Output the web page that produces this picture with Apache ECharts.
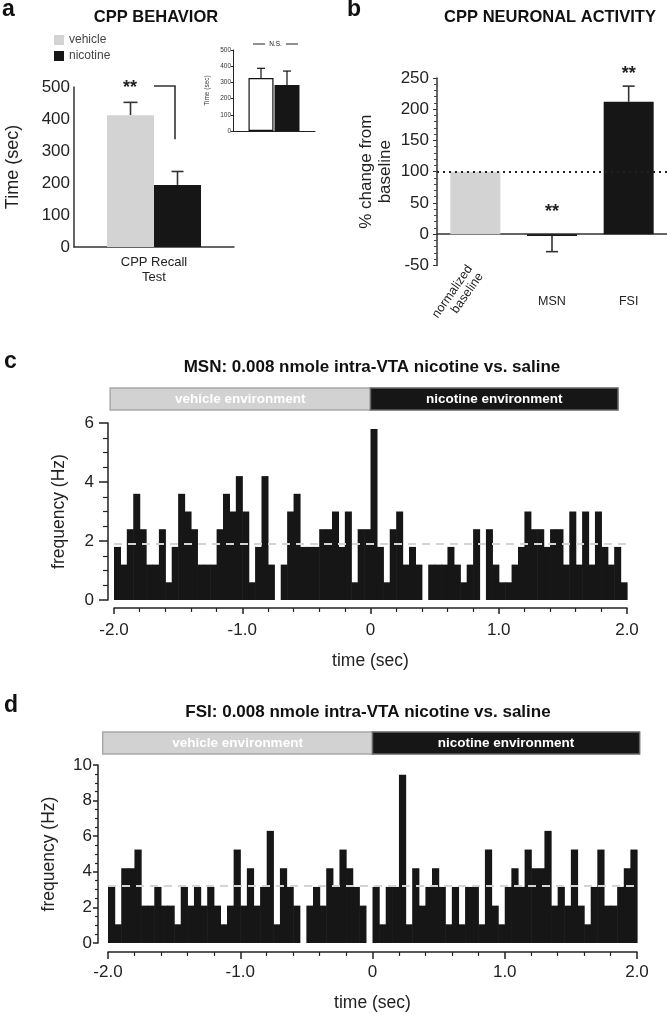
<!DOCTYPE html>
<html><head><meta charset="utf-8">
<script src="https://cdn.jsdelivr.net/npm/echarts@6/dist/echarts.min.js"></script>
<style>html,body{margin:0;padding:0;background:#fff}#c{width:667px;height:1015px}</style>
</head><body><div id="c"></div>
<script>
// ---------- data ----------
const behaviorCategories = ['CPP Recall\nTest'];
const behaviorVehicle = [412];
const behaviorVehicleErr = [40];
const behaviorNicotine = [194];
const behaviorNicotineErr = [42];
const behaviorBracket = [503, 337];   // bracket top / bottom (sec)
const behaviorStarsY = 507;

const insetVehicle = [327];
const insetVehicleErr = [60];
const insetNicotine = [284];
const insetNicotineErr = [86];
const insetNSY = 537;

const neuronCategories = ['normalized\nbaseline', 'MSN', 'FSI'];
const neuronValues = [100, -3, 212];
const neuronErr = [0, -25, 25];
const neuronStarsY = [null, 41, 261];
const neuronBaseline = 100;

const binWidth = 0.05;
const msnFreq = [1.8,1.2,2.4,3.6,2.4,1.2,1.2,2.4,0.6,1.8,
                 3.6,3.0,2.4,1.2,1.2,1.2,2.4,3.6,3.0,4.2,
                 3.0,0.6,1.8,4.2,1.2,0,1.2,3.0,3.6,1.8,
                 1.8,1.8,2.4,2.4,3.0,1.8,3.0,0.6,2.4,2.4,
                 5.8,1.8,0.6,2.4,3.0,1.2,1.8,1.2,0,1.2,
                 1.2,1.2,1.8,1.2,0.6,1.2,2.4,0,2.4,1.2,
                 0.6,0.6,1.2,1.8,3.0,2.4,2.4,1.8,2.4,2.4,
                 1.2,3.0,1.2,3.0,1.2,3.0,1.8,1.2,1.8,0.6];
const fsiFreq = [3.15,1.05,4.2,4.2,5.25,2.1,2.1,3.15,2.1,2.1,
                 1.05,3.15,2.1,3.15,2.1,3.15,2.1,1.05,2.1,5.25,
                 2.1,4.2,2.1,3.15,6.3,1.05,4.2,3.15,2.1,0,
                 2.1,3.15,2.1,4.2,3.15,5.25,4.2,3.15,2.1,0,
                 3.15,1.05,3.15,3.15,9.45,1.05,4.2,2.1,3.15,4.2,
                 3.15,1.05,3.15,1.05,3.15,3.15,1.05,5.25,2.1,1.05,
                 3.15,4.2,3.15,5.25,4.2,4.2,6.3,2.1,3.15,2.1,
                 5.25,2.1,1.05,3.15,5.25,2.1,2.1,3.15,4.2,5.25];
const msnBaseline = 1.9;
const fsiBaseline = 3.2;
const msnEnv = [[-2.03, 0], [0, 1.93]];
const fsiEnv = [[-2.04, 0], [0, 2.02]];
const envLabels = ['vehicle environment', 'nicotine environment'];
const histRange = [-2, 2];

// ---------- helpers ----------
const FF = '"Liberation Sans", Arial, sans-serif';
const INK = '#222';
const BLACK = '#161616';
const GRAY = '#d3d3d3';

function errRenderer(offset, cap, color, lw) {
  return function (params, api) {
    const c = api.value(0), v = api.value(1), e = api.value(2);
    if (!e) return;
    const p0 = api.coord([c, v]), p1 = api.coord([c, v + e]);
    const x = p0[0] + offset;
    return { type: 'group', children: [
      { type: 'line', shape: { x1: x, y1: p0[1], x2: x, y2: p1[1] }, style: { stroke: color, lineWidth: lw } },
      { type: 'line', shape: { x1: x - cap, y1: p1[1], x2: x + cap, y2: p1[1] }, style: { stroke: color, lineWidth: lw } }
    ]};
  };
}
function histRenderer(params, api) {
  const x0 = api.value(0), v = api.value(1);
  if (!v) return;
  const p0 = api.coord([x0, 0]), p1 = api.coord([x0 + binWidth, v]);
  return { type: 'rect', shape: { x: p0[0], y: p1[1], width: p1[0] - p0[0] + 0.6, height: p0[1] - p1[1] },
           style: { fill: BLACK } };
}
function envRenderer(params, api) {
  const s = api.value(0), e = api.value(1);
  const p0 = api.coord([s, 1]), p1 = api.coord([e, 0]);
  const dark = params.dataIndex === 1;
  return { type: 'group', children: [
    { type: 'rect', shape: { x: p0[0], y: p0[1], width: p1[0] - p0[0], height: p1[1] - p0[1] },
      style: { fill: dark ? BLACK : '#d2d2d2', stroke: dark ? '#666' : '#a8a8a8', lineWidth: 1.5 } },
    { type: 'text', style: { x: (p0[0] + p1[0]) / 2, y: (p0[1] + p1[1]) / 2, text: envLabels[params.dataIndex],
      fill: '#fff', font: 'bold 13.5px ' + FF, textAlign: 'center', textVerticalAlign: 'middle', align: 'center', verticalAlign: 'middle' } }
  ]};
}
function histX(gridIdx, labelMargin, majorLen) {
  return { gridIndex: gridIdx, type: 'value', position: 'bottom', min: histRange[0], max: histRange[1], interval: 1,
    offset: gridIdx === 4 ? 8 : 9,
    axisLine: { show: true, onZero: false, lineStyle: { color: INK, width: 1.5 } },
    axisTick: { show: true, length: majorLen, lineStyle: { color: INK, width: 1.5 } },
    minorTick: { show: true, splitNumber: 5, length: 4, lineStyle: { color: INK, width: 1.2 } },
    splitLine: { show: false }, minorSplitLine: { show: false },
    axisLabel: { color: INK, fontSize: 17, fontFamily: FF, margin: labelMargin,
      formatter: v => v === 0 ? '0' : v.toFixed(1) },
    name: 'time (sec)', nameLocation: 'middle', nameGap: gridIdx === 4 ? 44 : 42,
    nameTextStyle: { color: INK, fontSize: 17.5, fontFamily: FF } };
}
function histY(gridIdx, max, tickLen, margin, nameGap, offset) {
  return { gridIndex: gridIdx, type: 'value', position: 'left', min: 0, max: max, interval: 2, offset: offset,
    axisLine: { show: true, onZero: false, lineStyle: { color: INK, width: 1.5 } },
    axisTick: { show: true, length: tickLen, lineStyle: { color: INK, width: 1.5 } },
    minorTick: { show: true, splitNumber: 4, length: Math.round(tickLen / 2), lineStyle: { color: INK, width: 1.2 } },
    splitLine: { show: false }, minorSplitLine: { show: false },
    axisLabel: { color: INK, fontSize: 17, fontFamily: FF, margin: margin },
    name: 'frequency (Hz)', nameLocation: 'middle', nameGap: nameGap,
    nameTextStyle: { color: INK, fontSize: 17.5, fontFamily: FF } };
}
function title(x, y, text, size, align) {
  return { type: 'text', x: x, y: y, silent: true,
    style: { text: text, font: 'bold ' + size + 'px ' + FF, fill: '#111',
      textAlign: align || 'center', textVerticalAlign: 'middle', align: align || 'center', verticalAlign: 'middle' } };
}

const chart = echarts.init(document.getElementById('c'), null, { renderer: 'canvas' });
const option = {
  animation: false,
  backgroundColor: '#fff',
  textStyle: { fontFamily: FF },
  legend: { data: ['vehicle', 'nicotine'], orient: 'vertical', left: 49, top: 29, itemWidth: 10, itemHeight: 10,
    itemGap: 4, icon: 'rect', selectedMode: false,
    textStyle: { fontSize: 12, color: '#444', fontFamily: FF } },
  grid: [
    { left: 74, top: 87, width: 160, height: 160 },
    { left: 233, top: 50, width: 82, height: 81 },
    { left: 437, top: 78, width: 230, height: 187.4 },
    { left: 114, top: 388, width: 513, height: 22 },
    { left: 114, top: 423, width: 513, height: 177 },
    { left: 108, top: 732, width: 529, height: 22 },
    { left: 108, top: 765, width: 529, height: 178 }
  ],
  xAxis: [
    { gridIndex: 0, type: 'category', position: 'bottom', data: behaviorCategories,
      axisLine: { lineStyle: { color: '#333', width: 1.5 } }, axisTick: { show: false },
      axisLabel: { color: INK, fontSize: 13, lineHeight: 15, margin: 8, fontFamily: FF } },
    { gridIndex: 1, type: 'category', position: 'bottom', data: [''],
      axisLine: { lineStyle: { color: '#222', width: 1 } }, axisTick: { show: false }, axisLabel: { show: false } },
    { gridIndex: 2, type: 'category', position: 'bottom', data: neuronCategories,
      axisLine: { onZero: true, lineStyle: { color: '#333', width: 1.5 } }, axisTick: { show: false }, axisLabel: { show: false } },
    { gridIndex: 2, type: 'category', position: 'bottom', data: neuronCategories.map((c, i) => i === 0 ? '' : c),
      axisLine: { show: false, onZero: false }, axisTick: { show: false },
      axisLabel: { color: INK, fontSize: 12.5, margin: 30, fontFamily: FF } },
    { gridIndex: 2, type: 'category', position: 'bottom', data: neuronCategories.map((c, i) => i === 0 ? c : ''),
      axisLine: { show: false, onZero: false }, axisTick: { show: false },
      axisLabel: { color: INK, fontSize: 12.5, lineHeight: 13, rotate: 55, margin: 5, fontFamily: FF } },
    { gridIndex: 3, type: 'value', min: histRange[0], max: histRange[1], show: false },
    histX(4, 14, 6),
    { gridIndex: 5, type: 'value', min: histRange[0], max: histRange[1], show: false },
    histX(6, 12, 7)
  ],
  yAxis: [
    { gridIndex: 0, type: 'value', min: 0, max: 500, interval: 100,
      axisLine: { show: true, lineStyle: { color: '#333', width: 1.5 } }, axisTick: { show: false },
      splitLine: { show: false },
      axisLabel: { color: INK, fontSize: 17, margin: 4, fontFamily: FF },
      name: 'Time (sec)', nameLocation: 'middle', nameGap: 52,
      nameTextStyle: { color: INK, fontSize: 18, fontFamily: FF } },
    { gridIndex: 1, type: 'value', min: 0, max: 500, interval: 100,
      axisLine: { show: true, lineStyle: { color: '#222', width: 1 } },
      axisTick: { show: true, length: 2, lineStyle: { color: '#222' } }, splitLine: { show: false },
      axisLabel: { color: '#333', fontSize: 6.5, margin: 2, fontFamily: FF },
      name: 'Time (sec)', nameLocation: 'middle', nameGap: 22,
      nameTextStyle: { color: '#333', fontSize: 6.5, fontFamily: FF } },
    { gridIndex: 2, type: 'value', min: -50, max: 250, interval: 50,
      axisLine: { show: true, lineStyle: { color: '#333', width: 1.5 } },
      axisTick: { show: true, length: 4, lineStyle: { color: '#333' } },
      minorTick: { show: true, splitNumber: 5, length: 3, lineStyle: { color: '#444' } },
      splitLine: { show: false }, minorSplitLine: { show: false },
      axisLabel: { color: INK, fontSize: 17, margin: 8, fontFamily: FF },
      name: '% change from\nbaseline', nameLocation: 'middle', nameGap: 42,
      nameTextStyle: { color: INK, fontSize: 17, lineHeight: 19, fontFamily: FF } },
    { gridIndex: 3, type: 'value', min: 0, max: 1, show: false },
    histY(4, 6, 9, 14, 40, 6),
    { gridIndex: 5, type: 'value', min: 0, max: 1, show: false },
    histY(6, 10, 5, 6, 40, 10)
  ],
  series: [
    // panel a
    { name: 'vehicle', type: 'bar', xAxisIndex: 0, yAxisIndex: 0, data: behaviorVehicle,
      barWidth: 47, barGap: '0%', itemStyle: { color: GRAY } },
    { name: 'nicotine', type: 'bar', xAxisIndex: 0, yAxisIndex: 0, data: behaviorNicotine,
      barWidth: 47, barGap: '0%', itemStyle: { color: BLACK } },
    { type: 'custom', xAxisIndex: 0, yAxisIndex: 0, renderItem: errRenderer(-23.5, 7, '#333', 1.6),
      data: behaviorVehicle.map((v, i) => [i, v, behaviorVehicleErr[i]]) },
    { type: 'custom', xAxisIndex: 0, yAxisIndex: 0, renderItem: errRenderer(23.5, 6, '#333', 1.6),
      data: behaviorNicotine.map((v, i) => [i, v, behaviorNicotineErr[i]]) },
    { type: 'custom', xAxisIndex: 0, yAxisIndex: 0, data: [[0, behaviorBracket[0], behaviorBracket[1], behaviorStarsY]],
      renderItem: function (params, api) {
        const top = api.coord([0, api.value(1)]), bot = api.coord([0, api.value(2)]), st = api.coord([0, api.value(3)]);
        const x0 = top[0], x1 = top[0] + 21;
        return { type: 'group', children: [
          { type: 'polyline', shape: { points: [[x0, top[1]], [x1, top[1]], [x1, bot[1]]] }, style: { stroke: '#333', lineWidth: 1.6, fill: null } },
          { type: 'text', style: { x: st[0] - 24, y: st[1] + 3, text: '**', font: 'bold 18px ' + FF, fill: '#222',
            textAlign: 'center', textVerticalAlign: 'middle', align: 'center', verticalAlign: 'middle' } }
        ]};
      } },
    // inset
    { name: 'inset vehicle', type: 'bar', xAxisIndex: 1, yAxisIndex: 1, data: insetVehicle, barWidth: 25, barGap: '4%',
      itemStyle: { color: '#fff', borderColor: '#111', borderWidth: 1.2 } },
    { name: 'inset nicotine', type: 'bar', xAxisIndex: 1, yAxisIndex: 1, data: insetNicotine, barWidth: 25, barGap: '4%',
      itemStyle: { color: BLACK } },
    { type: 'custom', xAxisIndex: 1, yAxisIndex: 1, renderItem: errRenderer(-13, 4, '#111', 1.2),
      data: insetVehicle.map((v, i) => [i, v, insetVehicleErr[i]]) },
    { type: 'custom', xAxisIndex: 1, yAxisIndex: 1, renderItem: errRenderer(13, 4, '#111', 1.2),
      data: insetNicotine.map((v, i) => [i, v, insetNicotineErr[i]]) },
    { type: 'custom', xAxisIndex: 1, yAxisIndex: 1, data: [[0, insetNSY]],
      renderItem: function (params, api) {
        const p = api.coord([0, api.value(1)]);
        return { type: 'group', children: [
          { type: 'line', shape: { x1: p[0] - 21, y1: p[1], x2: p[0] - 9, y2: p[1] }, style: { stroke: '#222', lineWidth: 1 } },
          { type: 'line', shape: { x1: p[0] + 12, y1: p[1], x2: p[0] + 24, y2: p[1] }, style: { stroke: '#222', lineWidth: 1 } },
          { type: 'text', style: { x: p[0] + 1.5, y: p[1], text: 'N.S.', font: '6.5px ' + FF, fill: '#222',
            textAlign: 'center', textVerticalAlign: 'middle', align: 'center', verticalAlign: 'middle' } }
        ]};
      } },
    // panel b
    { type: 'bar', xAxisIndex: 2, yAxisIndex: 2, barWidth: 50,
      data: neuronValues.map((v, i) => ({ value: v, itemStyle: { color: i === 0 ? GRAY : BLACK } })),
      markLine: { silent: true, symbol: ['none', 'none'], label: { show: false },
        lineStyle: { type: [2, 4], color: '#222', width: 1.8 }, data: [{ yAxis: neuronBaseline }] } },
    { type: 'custom', xAxisIndex: 2, yAxisIndex: 2, renderItem: errRenderer(0, 6, '#333', 1.6),
      data: neuronValues.map((v, i) => [i, v, neuronErr[i]]) },
    { type: 'custom', xAxisIndex: 2, yAxisIndex: 2,
      data: neuronStarsY.map((v, i) => [i, v]).filter(d => d[1] !== null),
      renderItem: function (params, api) {
        const p = api.coord([api.value(0), api.value(1)]);
        return { type: 'text', style: { x: p[0], y: p[1] + 3, text: '**', font: 'bold 18px ' + FF, fill: '#222',
          textAlign: 'center', textVerticalAlign: 'middle', align: 'center', verticalAlign: 'middle' } };
      } },
    // panel c
    { type: 'custom', xAxisIndex: 5, yAxisIndex: 3, renderItem: envRenderer, data: msnEnv },
    { type: 'custom', xAxisIndex: 6, yAxisIndex: 4, renderItem: histRenderer,
      data: msnFreq.map((v, i) => [histRange[0] + i * binWidth, v]) },
    { type: 'line', xAxisIndex: 6, yAxisIndex: 4, symbol: 'none', silent: true,
      data: [[histRange[0], msnBaseline], [histRange[1], msnBaseline]],
      lineStyle: { color: '#d4d4d4', width: 2, type: [8, 6] } },
    // panel d
    { type: 'custom', xAxisIndex: 7, yAxisIndex: 5, renderItem: envRenderer, data: fsiEnv },
    { type: 'custom', xAxisIndex: 8, yAxisIndex: 6, renderItem: histRenderer,
      data: fsiFreq.map((v, i) => [histRange[0] + i * binWidth, v]) },
    { type: 'line', xAxisIndex: 8, yAxisIndex: 6, symbol: 'none', silent: true,
      data: [[histRange[0], fsiBaseline], [histRange[1], fsiBaseline]],
      lineStyle: { color: '#d4d4d4', width: 2, type: [8, 6] } }
  ],
  graphic: [
    title(2, 10, 'a', 23, 'left'),
    title(156, 17, 'CPP BEHAVIOR', 16.5),
    title(347, 10, 'b', 23, 'left'),
    title(550, 17, 'CPP NEURONAL ACTIVITY', 16.5),
    title(4, 362, 'c', 23, 'left'),
    title(372, 367, 'MSN: 0.008 nmole intra-VTA nicotine vs. saline', 17),
    title(4, 706, 'd', 23, 'left'),
    title(368, 712, 'FSI: 0.008 nmole intra-VTA nicotine vs. saline', 17)
  ]
};
chart.setOption(option);
</script>
</body></html>
